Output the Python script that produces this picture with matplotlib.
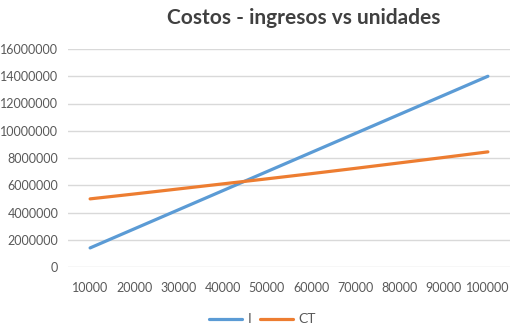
import numpy as np
import matplotlib.pyplot as plt

unidades = [10000, 20000, 30000, 40000, 50000, 60000, 70000, 80000, 90000, 100000]
ingresos = [1400000, 2800000, 4200000, 5600000, 7000000, 8400000, 9800000, 11200000, 12600000, 14000000]
costo_total = [5000000, 5360000, 5730000, 6100000, 6470000, 6850000, 7240000, 7640000, 8040000, 8450000]
yticks = [0, 2000000, 4000000, 6000000, 8000000, 10000000, 12000000, 14000000, 16000000]

plt.rcParams['font.family'] = ['Lato', 'DejaVu Sans']

fig = plt.figure(figsize=(5.15, 3.31), dpi=100)
ax = fig.add_axes([68/515, 64/331, 442/515, 218/331])

x = np.arange(len(unidades))
ax.plot(x, ingresos, color='#5B9BD5', lw=2.3, label='I', solid_capstyle='round')
ax.plot(x, costo_total, color='#ED7D31', lw=2.3, label='CT', solid_capstyle='round')

ax.set_xlim(-0.5, len(unidades) - 0.5)
ax.set_ylim(0, 16000000)
ax.set_yticks(yticks)
ax.set_yticklabels([str(v) for v in yticks])
ax.set_xticks(x)
ax.set_xticklabels([str(u) for u in unidades])
ax.grid(axis='y', color='#d9d9d9', lw=1)
ax.set_axisbelow(True)
for s in ax.spines.values():
    s.set_visible(False)
ax.tick_params(length=0, colors='#595959', labelsize=9)
ax.tick_params(axis='x', pad=11)
ax.tick_params(axis='y', pad=7)

fig.suptitle('Costos - ingresos vs unidades', x=0.59, y=0.975, fontsize=15,
             color='#404040', fontweight='bold')
fig.legend(loc='center', bbox_to_anchor=(0.51, 0.035), ncol=2, frameon=False,
           fontsize=10, labelcolor='#595959', handlelength=2.4, columnspacing=0.6,
           handletextpad=0.4)

fig.savefig('out.png', dpi=100)
